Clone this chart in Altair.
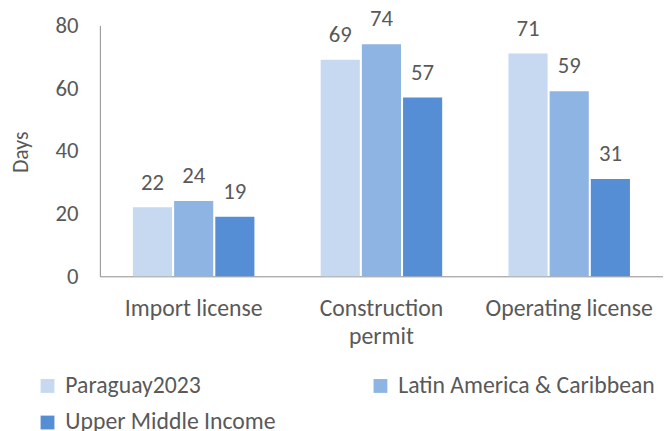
import altair as alt
import pandas as pd

categories = ["Import license", "Construction permit", "Operating license"]
series = ["Paraguay2023", "Latin America & Caribbean", "Upper Middle Income"]
paraguay = [22, 69, 71]
lac = [24, 74, 59]
umi = [19, 57, 31]
colors = ["#C6D9F0", "#8EB4E3", "#558ED5"]
y_ticks = [0, 20, 40, 60, 80]

rows = []
for s, vals in zip(series, [paraguay, lac, umi]):
    for c, v in zip(categories, vals):
        rows.append({"category": c, "series": s, "value": v})
df = pd.DataFrame(rows)

FONT = "Carlito, Lato"
TXT = "#595959"
AXIS = "#8C8C8C"

base = alt.Chart(df).encode(
    x=alt.X(
        "category:N",
        sort=categories,
        scale=alt.Scale(paddingInner=0.353, paddingOuter=0.176),
        axis=alt.Axis(
            title=None, labelAngle=0, ticks=False, domainColor=AXIS,
            labelFontSize=24, labelColor=TXT, labelFont=FONT,
            labelPadding=21, labelLineHeight=28,
            labelExpr="datum.value == 'Construction permit' ? ['Construction', 'permit'] : datum.label",
        ),
    ),
    xOffset=alt.XOffset("series:N", sort=series,
                        scale=alt.Scale(paddingInner=0.05, paddingOuter=0)),
    y=alt.Y(
        "value:Q",
        scale=alt.Scale(domain=[0, 80], nice=False),
        axis=alt.Axis(
            values=y_ticks, grid=False, ticks=False, domainColor=AXIS,
            labelFontSize=23, labelColor=TXT, labelFont=FONT, labelPadding=22,
            title="Days", titleFont=FONT, titleFontSize=22, titleColor=TXT,
            titleFontWeight="normal", titleAngle=-90, titleX=-80, titleY=128,
            titleAlign="center", titleBaseline="middle",
        ),
    ),
)

bars = base.mark_bar().encode(
    color=alt.Color(
        "series:N", sort=series,
        scale=alt.Scale(domain=series, range=colors),
        legend=alt.Legend(
            title=None, orient="none", legendX=-65, legendY=353,
            direction="horizontal", columns=2, columnPadding=94, rowPadding=13,
            symbolType="square", symbolSize=196, symbolStrokeWidth=0,
            labelOffset=6, labelFontSize=24, labelFont=FONT, labelColor=TXT,
            labelLimit=400,
        ),
    )
)

labels = base.mark_text(
    baseline="alphabetic", dy=-18, fontSize=23, font=FONT, color=TXT
).encode(text="value:Q")

chart = (bars + labels).properties(
    width=570, height=254,
    padding={"left": 93, "top": 15, "right": 0, "bottom": 154},
    autosize="none",
).configure_view(stroke=None)

chart.save("out.html", embed_options={"renderer": "svg", "actions": False})
